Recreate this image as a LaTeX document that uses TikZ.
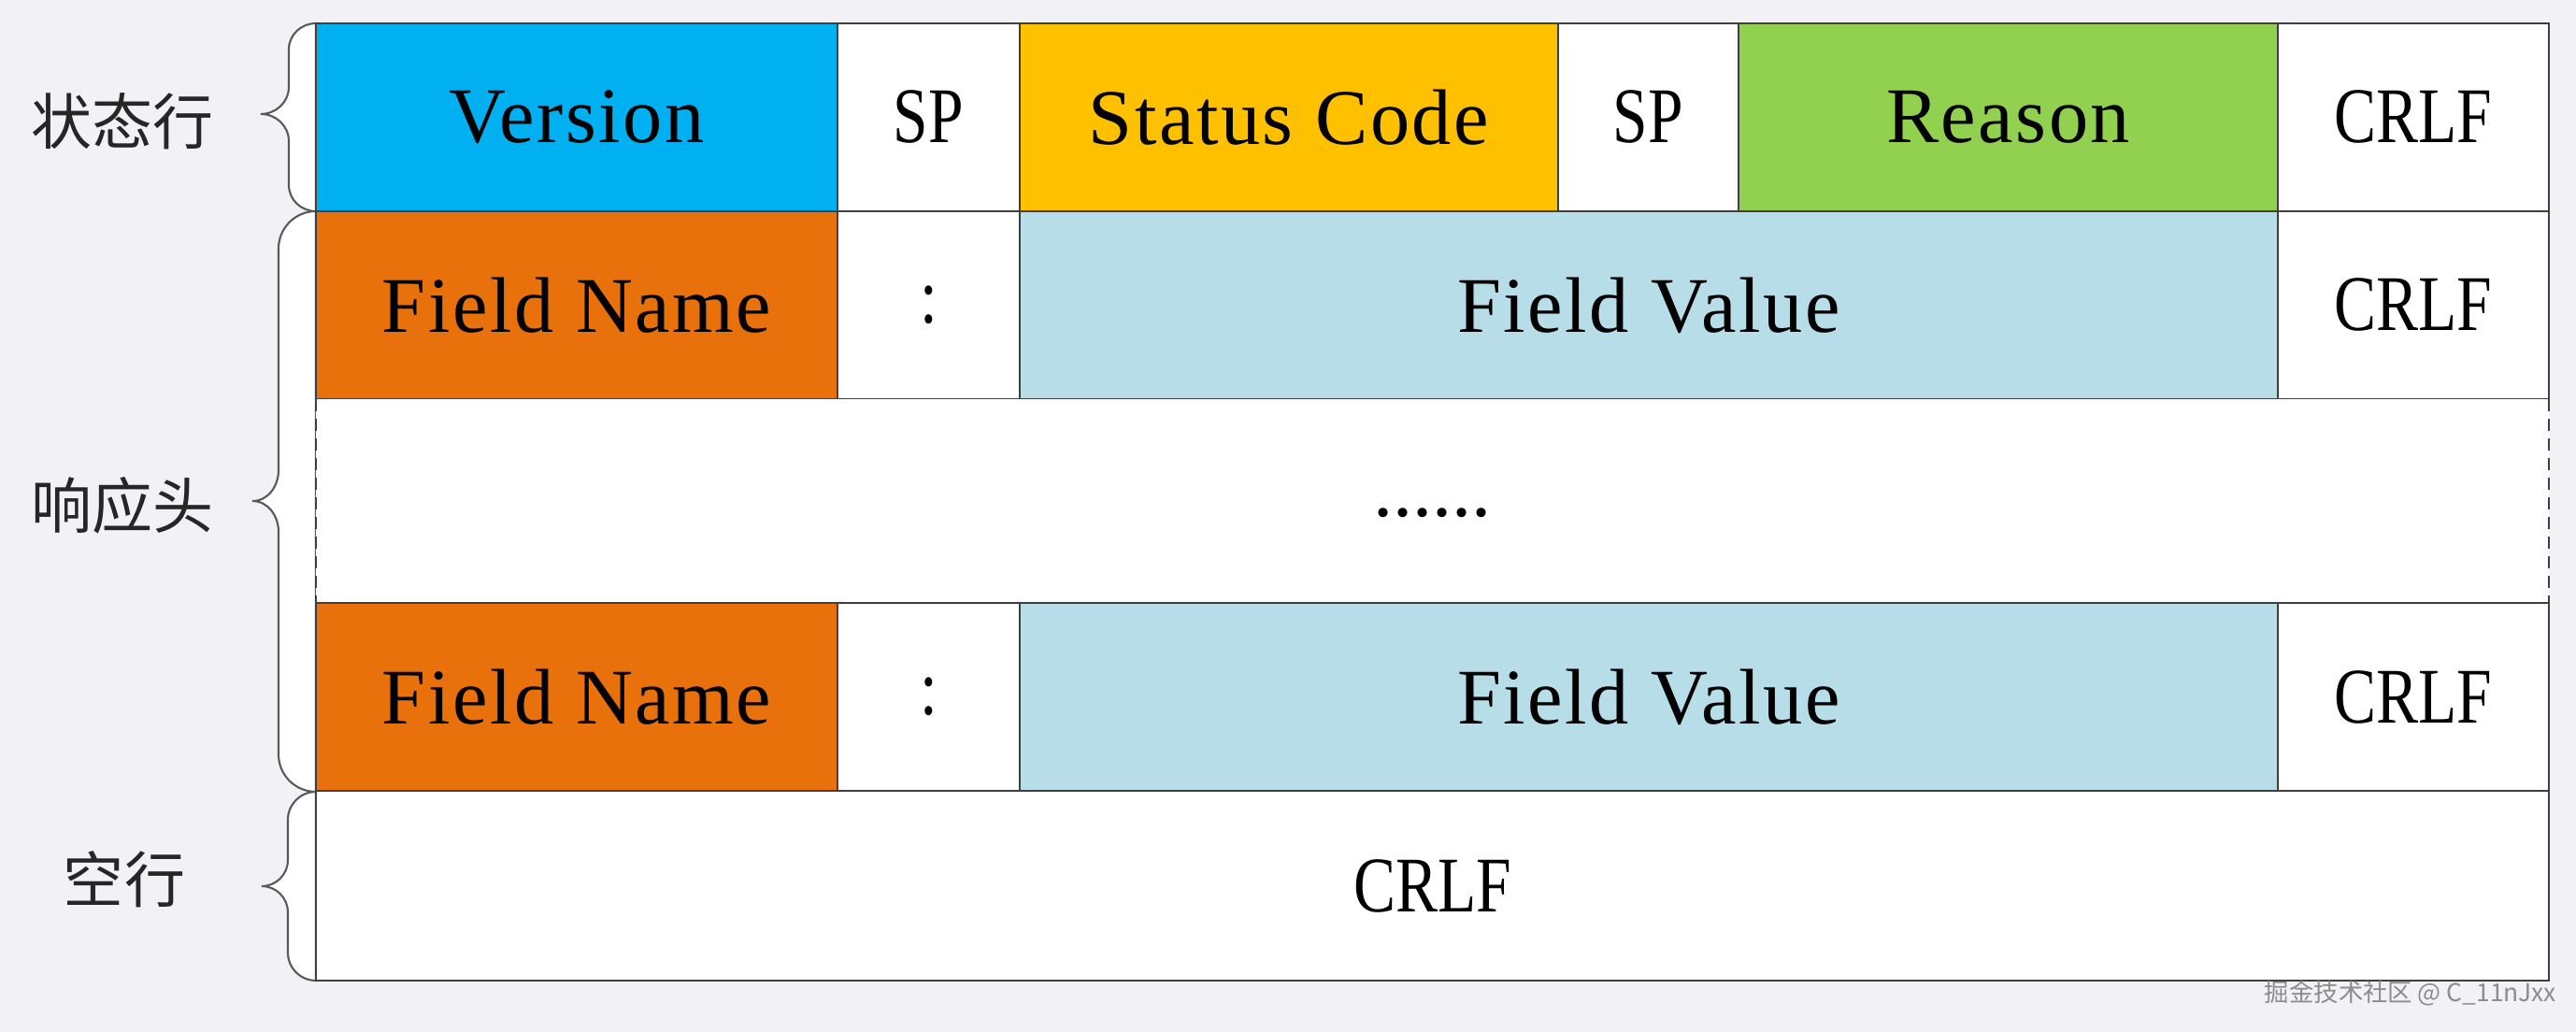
\documentclass[tikz,border=0pt]{standalone}
\usepackage{fontspec}
\setmainfont{Liberation Serif}
\newfontfamily\cjkfont{Noto Sans CJK SC}
\newfontfamily\narrowfont[FakeStretch=0.8]{Liberation Serif}
\newfontfamily\wordfont[LetterSpace=3]{Liberation Serif}
\usepackage{tikz}
\usetikzlibrary{positioning}

\definecolor{bgcol}{HTML}{F2F1F6}
\definecolor{linecol}{HTML}{3F3F3F}
\definecolor{verblue}{HTML}{00B0F0}
\definecolor{codeyellow}{HTML}{FFC000}
\definecolor{reasongreen}{HTML}{92D050}
\definecolor{nameorange}{HTML}{E9710C}
\definecolor{valueblue}{HTML}{B7DEE8}

\begin{document}
\begin{tikzpicture}[
  cell/.style={draw=linecol, line width=0.7pt, inner sep=0pt, outer sep=0pt,
    minimum height=2.01cm, font=\wordfont\fontsize{24}{28}\selectfont},
  narrow/.style={font=\narrowfont\fontsize{24}{28}\selectfont},
  sidelabel/.style={font=\cjkfont\fontsize{18.5}{22}\selectfont, text=black!85},
  bracefill/.style={fill=white, draw=black!65, line width=0.6pt},
  dashedside/.style={draw=linecol, line width=0.7pt, dash pattern=on 0.13cm off 0.08cm},
]
  \fill[bgcol] (0,0) rectangle (27.56,-11.04);
  \useasboundingbox (0,0) rectangle (27.56,-11.04);

  %% braces: top, bottom, vertical x, tip x, tip y, end radius, tip radius
  \foreach \yt/\yb/\xv/\xt/\ym/\r/\rr in {-0.25/-2.26/3.09/2.79/-1.22/0.28/0.29,
                                          -2.26/-8.47/2.98/2.70/-5.36/0.40/0.33,
                                          -8.47/-10.49/3.08/2.80/-9.48/0.30/0.28}
    \filldraw[bracefill] (3.38,\yt) to[out=180,in=90] (\xv,{\yt-\r}) -- (\xv,{\ym+\rr})
      to[out=-90,in=0] (\xt,\ym) to[out=0,in=90] (\xv,{\ym-\rr}) -- (\xv,{\yb+\r})
      to[out=-90,in=180] (3.38,\yb) -- cycle;

  \node[sidelabel] (statusline) at (1.31,-1.30) {状态行};
  \node[sidelabel] (header) at (1.31,-5.41) {响应头};
  \node[sidelabel] (blankline) at (1.33,-9.41) {空行};

  %% status line
  \node[cell, fill=verblue, minimum width=5.58cm, anchor=north west] (version) at (3.38,-0.25) {Version};
  \node[cell, narrow, fill=white, minimum width=1.95cm, right=0pt of version] (sp1) {SP};
  \node[cell, fill=codeyellow, minimum width=5.76cm, right=0pt of sp1] (status) {Status Code};
  \node[cell, narrow, fill=white, minimum width=1.93cm, right=0pt of status] (sp2) {SP};
  \node[cell, fill=reasongreen, minimum width=5.77cm, right=0pt of sp2] (reason) {Reason};
  \node[cell, narrow, fill=white, minimum width=2.90cm, right=0pt of reason] (crlf1) {CRLF};

  %% first header line
  \node[cell, fill=nameorange, minimum width=5.58cm, below=0pt of version] (name1) {Field Name};
  \node[cell, narrow, fill=white, minimum width=1.95cm, right=0pt of name1] (colon1) {:};
  \node[cell, fill=valueblue, minimum width=13.46cm, right=0pt of colon1] (value1) {Field Value};
  \node[cell, narrow, fill=white, minimum width=2.90cm, right=0pt of value1] (crlf2) {CRLF};

  %% gap with dots
  \node[fill=white, inner sep=0pt, outer sep=0pt, minimum width=23.89cm, minimum height=2.18cm,
    anchor=north west] (gap) at (name1.south west) {};
  \node[anchor=base, font=\fontsize{24}{28}\selectfont] (dots) at ([yshift=-0.17cm]gap.center) {......};
  \draw[dashedside] (gap.north west) -- (gap.south west);
  \draw[dashedside] (gap.north east) -- (gap.south east);

  %% last header line
  \node[cell, fill=nameorange, minimum width=5.58cm, anchor=north west] (name2) at (gap.south west) {Field Name};
  \node[cell, narrow, fill=white, minimum width=1.95cm, right=0pt of name2] (colon2) {:};
  \node[cell, fill=valueblue, minimum width=13.46cm, right=0pt of colon2] (value2) {Field Value};
  \node[cell, narrow, fill=white, minimum width=2.90cm, right=0pt of value2] (crlf3) {CRLF};

  %% blank line
  \node[cell, narrow, fill=white, minimum width=23.89cm, minimum height=2.03cm, anchor=north west]
    (crlf4) at (name2.south west) {CRLF};

  \node[font=\cjkfont\fontsize{7.5}{9}\selectfont, text=black!45] (mark) at (25.79,-10.63) {掘金技术社区 @ C\_11nJxx};
\end{tikzpicture}
\end{document}
